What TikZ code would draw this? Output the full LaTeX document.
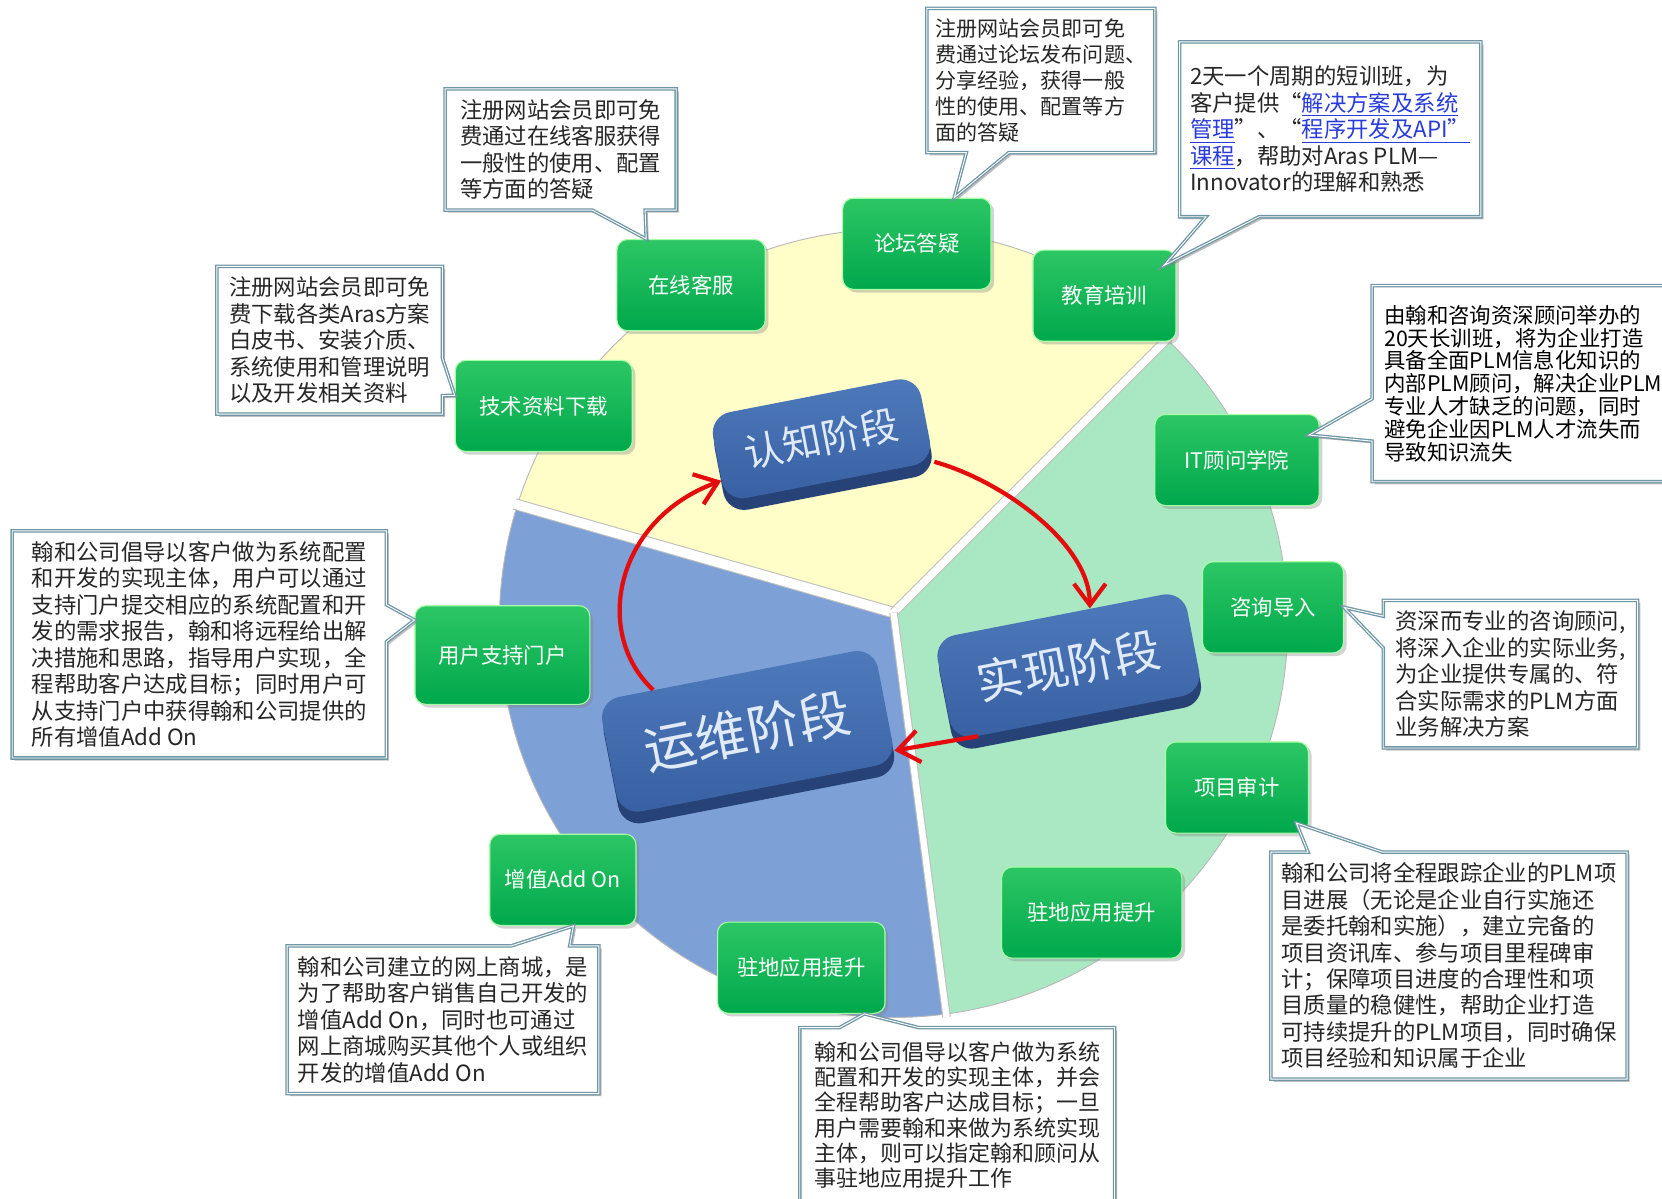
\documentclass[tikz,border=0pt]{standalone}
\usepackage{fontspec}
\setmainfont{Noto Sans CJK SC}
\usetikzlibrary{positioning,calc,shapes.callouts,shadows,arrows.meta}

\definecolor{pieyellow}{RGB}{255,253,200}
\definecolor{piegreen}{RGB}{170,232,195}
\definecolor{pieblue}{RGB}{125,160,214}
\definecolor{boxgreen}{RGB}{0,168,76}
\definecolor{boxgreenlt}{RGB}{45,198,100}
\definecolor{phasetop}{RGB}{78,122,188}
\definecolor{phasebot}{RGB}{56,96,162}
\definecolor{phaseside}{RGB}{38,66,118}
\definecolor{phasetext}{RGB}{225,234,248}
\definecolor{arrowred}{RGB}{228,12,12}
\definecolor{calloutedge}{RGB}{110,150,165}
\definecolor{linkblue}{RGB}{40,60,220}

\newcommand{\lnk}[1]{\textcolor{linkblue}{\underline{#1}}}

\begin{document}
\begin{tikzpicture}[x=0.02cm,y=-0.02cm]
  \tikzset{svc/.style={rounded corners=0.2cm, minimum width=2.8cm, minimum height=1.72cm,
      top color=boxgreenlt, bottom color=boxgreen, draw=green!35!white, line width=0.6pt,
      text=white, font=\fontsize{11.5}{13}\selectfont,
      drop shadow={shadow xshift=0.06cm, shadow yshift=-0.06cm, opacity=0.35}}}
  \tikzset{note/.style={rectangle callout, fill=white, draw=calloutedge, double=white,
      double distance=0.5pt, line width=0.7pt, align=left, inner sep=0.2cm, text=black!85,
      font=\fontsize{12}{14.2}\selectfont,
      drop shadow={shadow xshift=0.05cm, shadow yshift=-0.05cm, opacity=0.5}}}
  \tikzset{phase/.style={rounded corners=0.4cm, rotate=11, top color=phasetop,
      bottom color=phasebot, text=phasetext,
      drop shadow={shadow xshift=0.03cm, shadow yshift=-0.22cm, fill=phaseside, opacity=1}}}
  \tikzset{redflow/.style={draw=arrowred, line width=0.08cm,
      -{Straight Barb[length=0.4cm,width=0.6cm]}}}

  \useasboundingbox (0,0) rectangle (1568,1131);
  \clip (0,0) rectangle (1568,1131);

  % pie
  \coordinate (c) at (843,588);
  \coordinate (o) at (843,578);
  \begin{scope}
    \clip (c) circle (7.44cm);
    \fill[pieyellow] (o) -- (1338,83) -- (1200,-300) -- (300,-300) -- (170,385) -- cycle;
    \fill[piegreen] (o) -- (1338,83) -- (1700,600) -- (1400,1400) -- (934,1272) -- cycle;
    \fill[pieblue] (o) -- (934,1272) -- (300,1400) -- (-100,700) -- (170,385) -- cycle;
  \end{scope}
  \draw[gray!55, line width=0.5pt] (c) circle (7.44cm);
  \begin{scope}
    \clip (c) circle (7.5cm);
    \draw[gray!50, line width=0.22cm] (o) -- (170,385);
    \draw[white, line width=0.18cm] (o) -- (170,385);
    \draw[gray!50, line width=0.18cm] (o) -- (1338,83);
    \draw[white, line width=0.14cm] (o) -- (1338,83);
    \draw[gray!50, line width=0.16cm] (o) -- (934,1272);
    \draw[white, line width=0.12cm] (o) -- (934,1272);
  \end{scope}

  % phases
  \node[phase, minimum width=4cm, minimum height=1.65cm, font=\fontsize{21}{21}\selectfont] (rz) at (775,414) {认知阶段};
  \node[phase, minimum width=4.8cm, minimum height=1.95cm, font=\fontsize{25}{25}\selectfont] (sx) at (1008,628) {实现阶段};
  \node[phase, minimum width=5.3cm, minimum height=2.2cm, font=\fontsize{28}{28}\selectfont] (yw) at (705,690) {运维阶段};

  \draw[redflow] ($(yw.north west)!0.2!(yw.north east)$) .. controls +(-57,-53) and +(-101,37) .. ($(rz.west)!0.5!(rz.south west)$);
  \draw[redflow] (rz.south east) .. controls +(62,17) and +(0,-62) .. ($(sx.north)!0.25!(sx.north east)$);
  \draw[redflow] ($(sx.south west)!0.1!(sx.south east)$) -- ($(yw.east)!0.8!(yw.south east)$);

  % services
  \node[svc] (zx) at (652,269) {在线客服};
  \node[svc] (lt) at (865,230) {论坛答疑};
  \node[svc, minimum width=2.7cm] (jy) at (1042,279) {教育培训};
  \node[svc, minimum width=3.34cm] (js) at (513,383) {技术资料下载};
  \node[svc, minimum width=3.1cm] (it) at (1167,434) {IT顾问学院};
  \node[svc, minimum width=2.66cm] (zd) at (1201,573) {咨询导入};
  \node[svc, minimum width=3.3cm, minimum height=1.86cm] (yh) at (474,618) {用户支持门户};
  \node[svc, minimum width=2.7cm] (xm) at (1167,743) {项目审计};
  \node[svc, minimum width=3.4cm] (zr) at (1030,861) {驻地应用提升};
  \node[svc, minimum width=2.76cm] (zz) at (531,830) {增值Add On};
  \node[svc, minimum width=3.16cm] (zb) at (756,913) {驻地应用提升};

  % notes
  \node[note, minimum width=4.36cm, minimum height=2.14cm, callout pointer width=1cm,
    callout absolute pointer={($(zx.north west)!0.2!(zx.north east)$)}] (nzx) at (529,141)
    {注册网站会员即可免\\费通过在线客服获得\\一般性的使用、配置\\等方面的答疑};
  \node[note, minimum width=4.3cm, minimum height=2.56cm, callout pointer width=0.8cm,
    font=\fontsize{11.3}{13.9}\selectfont, inner xsep=0.12cm,
    callout absolute pointer={($(lt.north west)!0.75!(lt.north east)$)}] (nlt) at (982,76)
    {注册网站会员即可免\\费通过论坛发布问题、\\分享经验，获得一般\\性的使用、配置等方\\面的答疑};
  \node[note, minimum width=5.6cm, minimum height=3.3cm, callout pointer width=1cm,
    callout absolute pointer={($(jy.north east)+(-12,15)$)}] (njy) at (1255,122)
    {2天一个周期的短训班，为\\客户提供“\lnk{解决方案及系统}\\\lnk{管理}”、“\lnk{程序开发及API”}\\\lnk{课程}，帮助对Aras PLM—\\Innovator的理解和熟悉};
  \node[note, minimum width=5.7cm, minimum height=3.7cm, callout pointer width=0.8cm,
    font=\fontsize{11.5}{12.3}\selectfont, text=black, inner xsep=0.1cm,
    callout absolute pointer={($(it.north east)+(-10,20)$)}] (nit) at (1437,362)
    {由翰和咨询资深顾问举办的\\20天长训班，将为企业打造\\具备全面PLM信息化知识的\\内部PLM顾问，解决企业PLM\\专业人才缺乏的问题，同时\\避免企业因PLM人才流失而\\导致知识流失};
  \node[note, minimum width=4.26cm, minimum height=2.54cm, callout pointer width=0.7cm,
    callout absolute pointer={($(js.west)+(0,-10)$)}] (njs) at (311,321)
    {注册网站会员即可免\\费下载各类Aras方案\\白皮书、安装介质、\\系统使用和管理说明\\以及开发相关资料};
  \node[note, minimum width=7.06cm, minimum height=4.14cm, callout pointer width=0.7cm,
    callout absolute pointer={($(yh.north west)+(0,14)$)}] (nyh) at (188,608)
    {翰和公司倡导以客户做为系统配置\\和开发的实现主体，用户可以通过\\支持门户提交相应的系统配置和开\\发的需求报告，翰和将远程给出解\\决措施和思路，指导用户实现，全\\程帮助客户达成目标；同时用户可\\从支持门户中获得翰和公司提供的\\所有增值Add On};
  \node[note, minimum width=4.8cm, minimum height=2.56cm, callout pointer width=0.6cm,
    inner xsep=0.14cm,
    callout absolute pointer={(zd.east)}] (nzd) at (1425,636)
    {资深而专业的咨询顾问,\\将深入企业的实际业务,\\为企业提供专属的、符\\合实际需求的PLM方面\\业务解决方案};
  \node[note, minimum width=6.7cm, minimum height=4.14cm, callout pointer width=1.4cm,
    callout absolute pointer={($(xm.south east)+(-12,-10)$)}] (nxm) at (1367,911)
    {翰和公司将全程跟踪企业的PLM项\\目进展（无论是企业自行实施还\\是委托翰和实施），建立完备的\\项目资讯库、参与项目里程碑审\\计；保障项目进度的合理性和项\\目质量的稳健性，帮助企业打造\\可持续提升的PLM项目，同时确保\\项目经验和知识属于企业};
  \node[note, minimum width=5.86cm, minimum height=2.78cm, callout pointer width=1.1cm,
    callout absolute pointer={($(zz.south)+(10,0)$)}] (nzz) at (418,962)
    {翰和公司建立的网上商城，是\\为了帮助客户销售自己开发的\\增值Add On，同时也可通过\\网上商城购买其他个人或组织\\开发的增值Add On};
  \node[note, minimum width=5.94cm, minimum height=3.3cm, callout pointer width=1.5cm,
    font=\fontsize{11.8}{13.6}\selectfont,
    callout absolute pointer={($(zb.south east)+(-20,0)$)}] (nzb) at (903,1052)
    {翰和公司倡导以客户做为系统\\配置和开发的实现主体，并会\\全程帮助客户达成目标；一旦\\用户需要翰和来做为系统实现\\主体，则可以指定翰和顾问从\\事驻地应用提升工作};
\end{tikzpicture}
\end{document}
